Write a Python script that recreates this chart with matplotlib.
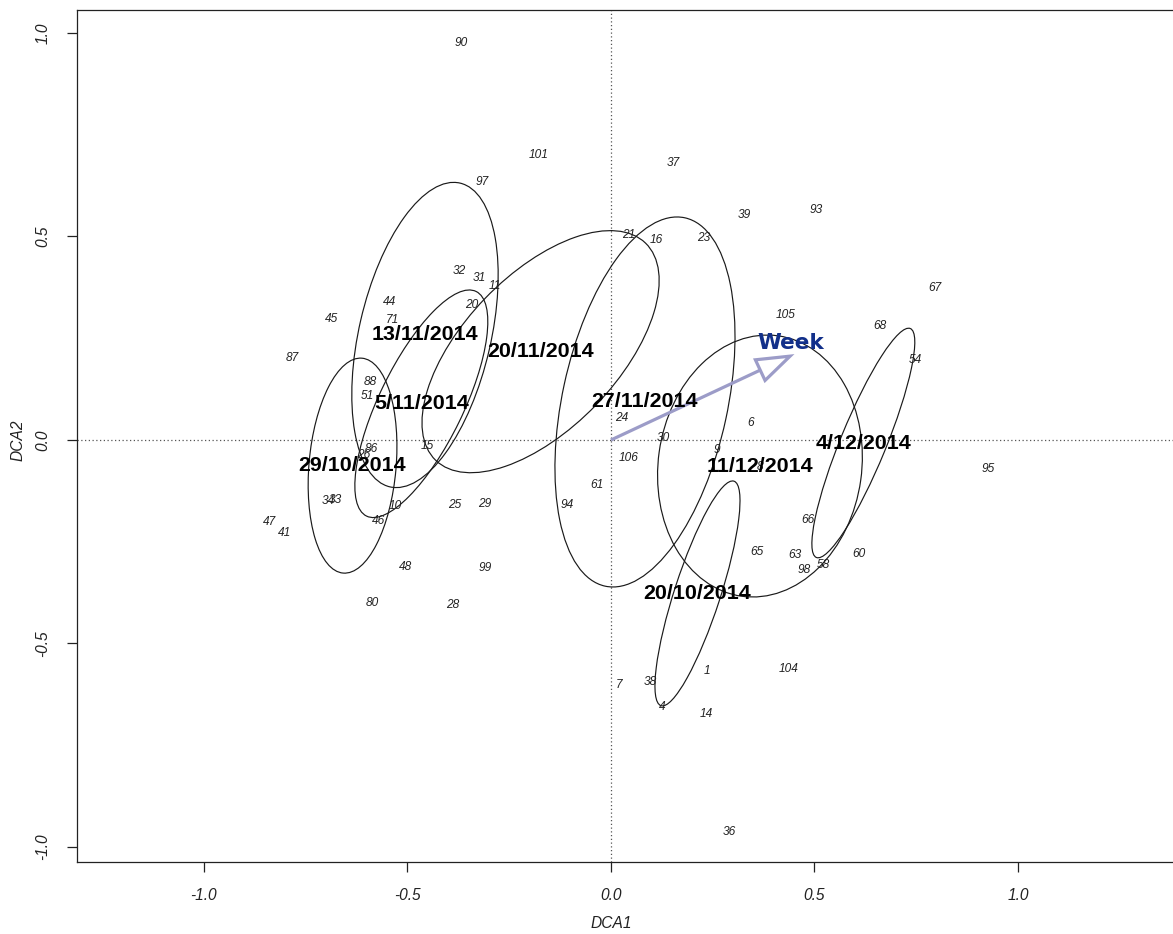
import numpy as np
import matplotlib
matplotlib.use("Agg")
import matplotlib.pyplot as plt
from matplotlib.patches import Ellipse, Polygon

# --- site scores (DCA1, DCA2) ---
site_ids = ["90", "101", "97", "37", "39", "93", "21", "16", "23", "67",
            "32", "31", "11", "20", "44", "45", "71", "105", "68", "54",
            "87", "88", "51", "24", "6", "30", "15", "86", "26", "9",
            "106", "95", "8", "61", "34", "33", "10", "25", "29", "94",
            "47", "46", "66", "41", "65", "63", "60", "98", "58", "48",
            "99", "80", "28", "104", "1", "7", "38", "4", "14", "36"]
site_x = [-0.369, -0.179, -0.317, 0.152, 0.327, 0.504, 0.044, 0.111, 0.229, 0.796,
          -0.373, -0.324, -0.285, -0.342, -0.545, -0.686, -0.536, 0.428, 0.661, 0.749,
          -0.784, -0.592, -0.599, 0.027, 0.344, 0.128, -0.452, -0.590, -0.607, 0.260,
          0.044, 0.926, 0.366, -0.034, -0.695, -0.678, -0.531, -0.383, -0.310, -0.108,
          -0.840, -0.572, 0.484, -0.801, 0.359, 0.452, 0.609, 0.474, 0.521, -0.506,
          -0.310, -0.587, -0.388, 0.437, 0.236, 0.020, 0.096, 0.125, 0.233, 0.292]
site_y = [0.975, 0.700, 0.634, 0.681, 0.553, 0.565, 0.504, 0.491, 0.496, 0.373,
          0.415, 0.398, 0.378, 0.332, 0.339, 0.297, 0.295, 0.307, 0.280, 0.197,
          0.201, 0.143, 0.108, 0.054, 0.042, 0.005, -0.015, -0.022, -0.037, -0.025,
          -0.044, -0.071, -0.066, -0.111, -0.150, -0.147, -0.162, -0.160, -0.157, -0.160,
          -0.201, -0.199, -0.197, -0.228, -0.275, -0.283, -0.280, -0.319, -0.307, -0.312,
          -0.314, -0.400, -0.405, -0.563, -0.568, -0.602, -0.595, -0.656, -0.673, -0.963]

# --- sampling-date ellipses: centre, semi-axes, rotation (deg) ---
groups = ["29/10/2014", "5/11/2014", "13/11/2014", "20/11/2014",
          "27/11/2014", "4/12/2014", "11/12/2014", "20/10/2014"]
grp_cx = [-0.635, -0.466, -0.457, -0.173, 0.0835, 0.620, 0.366, 0.2125]
grp_cy = [-0.063, 0.089, 0.258, 0.217, 0.0934, -0.0074, -0.064, -0.377]
grp_a = [0.265, 0.307, 0.383, 0.371, 0.463, 0.304, 0.323, 0.290]
grp_b = [0.107, 0.103, 0.162, 0.189, 0.203, 0.056, 0.250, 0.0565]
grp_ang = [85, 64, 77, 46, 77.8, 67.7, 82, 72]

# --- fitted environmental vector ---
vec_name = "Week"
vec_x, vec_y = 0.440, 0.206

W, H = 1173, 934
fig = plt.figure(figsize=(W / 100, H / 100), dpi=100)
ax = fig.add_axes([77 / W, 72 / H, (1190 - 77) / W, 852 / H])
ax.set_xlim(-1.312, 1.4226)
ax.set_ylim(-1.0369, 1.0565)

for s in ax.spines.values():
    s.set_linewidth(0.9)
    s.set_color("#222222")

# reference lines through the origin
ax.axhline(0, color="#555555", lw=0.9, ls=(0, (1, 2)), zorder=1)
ax.axvline(0, color="#555555", lw=0.9, ls=(0, (1, 2)), zorder=1)

# site labels
for t, x, y in zip(site_ids, site_x, site_y):
    ax.text(x, y, t, ha="center", va="center", fontsize=8.6, style="italic",
            family=["Liberation Sans", "DejaVu Sans"], color="#222222", zorder=3)

# group ellipses and centroid labels
for g, cx, cy, a, b, ang in zip(groups, grp_cx, grp_cy, grp_a, grp_b, grp_ang):
    ax.add_patch(Ellipse((cx, cy), 2 * a, 2 * b, angle=ang, fill=False,
                         ec="#1a1a1a", lw=0.85, zorder=2))
    ax.text(cx, cy, g, ha="center", va="center", fontsize=15.4, fontweight="bold",
            family=["Liberation Sans", "DejaVu Sans"], color="black", zorder=5)

# Week vector with open triangular head
arrow_col = "#9c9cc8"
d = np.array([vec_x, vec_y])
L = np.hypot(*d)
u = d / L
n = np.array([-u[1], u[0]])
head_len, head_half = 0.081, 0.028
base = d - u * head_len
ax.plot([0, base[0]], [0, base[1]], color=arrow_col, lw=2.3,
        solid_capstyle="butt", zorder=4)
ax.add_patch(Polygon([d, base + n * head_half, base - n * head_half], closed=True,
                     fc="white", ec=arrow_col, lw=2.3, joinstyle="miter", zorder=4))
ax.text(vec_x + 0.002, vec_y + 0.032, vec_name, ha="center", va="center",
        fontsize=15.6, fontweight="bold", family="DejaVu Sans", color="#12308a",
        zorder=6)

# axes, ticks, labels
tick_font = ["Liberation Sans Narrow", "Liberation Sans", "DejaVu Sans"]
ax.set_xticks([-1.0, -0.5, 0.0, 0.5, 1.0])
ax.set_yticks([-1.0, -0.5, 0.0, 0.5, 1.0])
ax.set_xticklabels(["-1.0", "-0.5", "0.0", "0.5", "1.0"])
ax.set_yticklabels(["-1.0", "-0.5", "0.0", "0.5", "1.0"], rotation=90, va="center")
ax.tick_params(direction="out", length=7, width=0.9, colors="#222222",
               labelsize=11.2, pad=12)
for lab in ax.get_xticklabels() + ax.get_yticklabels():
    lab.set_fontstyle("italic")
    lab.set_family(tick_font)
    lab.set_color("#222222")

fig.text(611 / W, 1 - 923 / H, "DCA1", ha="center", va="center", fontsize=11.2,
         style="italic", family=tick_font, color="#222222")
fig.text(18 / W, 1 - 440 / H, "DCA2", ha="center", va="center", fontsize=11.2,
         style="italic", family=tick_font, color="#222222", rotation=90)

fig.savefig("out.png", dpi=100)
